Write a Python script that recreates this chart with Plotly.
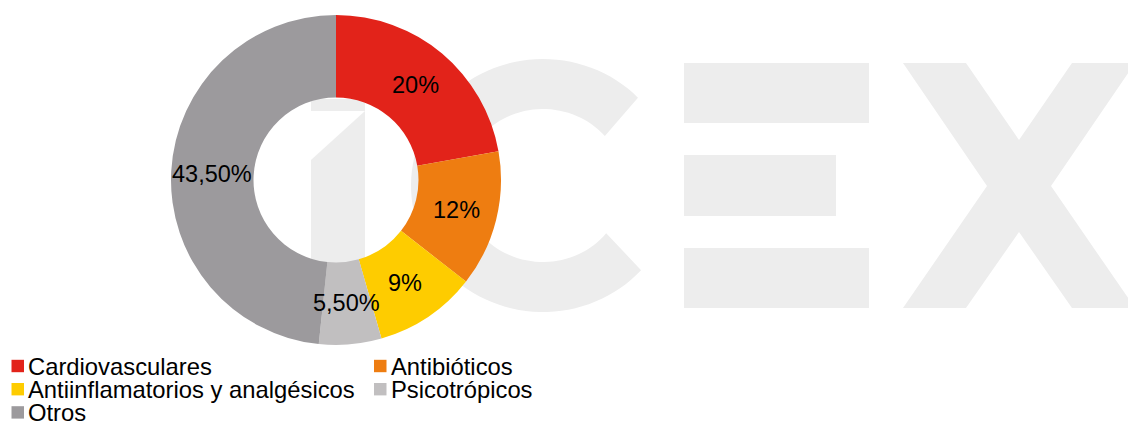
import numpy as np
import plotly.graph_objects as go

W, H = 1128, 421

# ---- data ----
labels = ["Cardiovasculares", "Antibióticos", "Antiinflamatorios y analgésicos",
          "Psicotrópicos", "Otros"]
values = [20, 12, 9, 5.5, 43.5]
value_text = ["20%", "12%", "9%", "5,50%", "43,50%"]
colors = ["#E2231A", "#EE7D11", "#FECC00", "#C1BFC0", "#9C9A9D"]

FONT = "Liberation Sans, Arial, Helvetica, sans-serif"
WM = "#EDEDED"

# pie geometry (pixels)
PCX, PCY, PR, HOLE = 336, 180, 165, 0.5


def px(x):
    return x / W


def py(y):
    return 1 - y / H


def poly(points):
    return "M " + " L ".join(f"{px(x):.5f},{py(y):.5f}" for x, y in points) + " Z"


shapes = []

# ---- watermark (decoration) ----
# "1"
shapes.append(dict(type="rect", xref="paper", yref="paper", layer="below",
                   x0=px(311), x1=px(365), y0=py(111), y1=py(99),
                   fillcolor=WM, line=dict(width=0)))
shapes.append(dict(type="path", xref="paper", yref="paper", layer="below",
                   path=poly([(311, 160), (365, 111), (365, 308), (311, 308)]),
                   fillcolor=WM, line=dict(width=0)))
# "C"
ccx, ccy = 543, 185.5
t_out = np.radians(np.linspace(-44, -318, 90))
t_in = np.radians(np.linspace(-321.3, -40.2, 90))
c_pts = [(ccx + 132 * np.cos(t), ccy + 126.5 * np.sin(t)) for t in t_out]
c_pts += [(ccx + 81 * np.cos(t), ccy + 76.5 * np.sin(t)) for t in t_in]
shapes.append(dict(type="path", xref="paper", yref="paper", layer="below",
                   path=poly(c_pts), fillcolor=WM, line=dict(width=0)))
# "E"
for (x0, y0, x1, y1) in [(684, 63, 869, 123), (684, 155, 836, 216), (684, 248, 869, 308)]:
    shapes.append(dict(type="rect", xref="paper", yref="paper", layer="below",
                       x0=px(x0), x1=px(x1), y0=py(y1), y1=py(y0),
                       fillcolor=WM, line=dict(width=0)))
# "X"
shapes.append(dict(type="path", xref="paper", yref="paper", layer="below",
                   path=poly([(903, 63), (966, 63), (1019, 140), (1072, 63), (1135, 63),
                              (1051, 186), (1135, 308), (1072, 308), (1019, 232),
                              (966, 308), (903, 308), (987, 186)]),
                   fillcolor=WM, line=dict(width=0)))

fig = go.Figure()
fig.add_trace(go.Pie(
    labels=labels, values=values, text=value_text,
    textinfo="none", textposition="none",
    hole=HOLE, sort=False, direction="clockwise", rotation=0,
    marker=dict(colors=colors, line=dict(width=0)),
    domain=dict(x=[px(PCX - PR), px(PCX + PR)], y=[py(PCY + PR), py(PCY - PR)]),
    showlegend=False, hoverinfo="label+text",
))

annotations = []

# ---- slice labels, placed at mid-angle, mid-ring of each slice ----
vals = np.array(values, dtype=float)
mid_frac = (np.cumsum(vals) - vals / 2) / vals.sum()
r_lab = PR * (1 + HOLE) / 2
for txt, f in zip(value_text, mid_frac):
    a = 2 * np.pi * f
    lx = PCX + r_lab * np.sin(a)
    ly = PCY - r_lab * np.cos(a)
    annotations.append(dict(text=txt, x=px(lx), y=py(ly), xref="paper", yref="paper",
                            xanchor="center", yanchor="middle", showarrow=False,
                            borderpad=0,
                            font=dict(family=FONT, size=23.5, color="black")))

# ---- legend (two columns, built from labels/colors) ----
col_marker_x = [11.5, 374]
col_text_x = [27, 390]
row_y0, row_step = 366, 23.2
for i, (lab, colr) in enumerate(zip(labels, colors)):
    col, row = i % 2, i // 2
    yc = row_y0 + row * row_step
    mx = col_marker_x[col]
    shapes.append(dict(type="rect", xref="paper", yref="paper", layer="above",
                       x0=px(mx), x1=px(mx + 12.5), y0=py(yc + 6.2), y1=py(yc - 6.2),
                       fillcolor=colr, line=dict(width=0)))
    annotations.append(dict(text=lab, x=px(col_text_x[col]), y=py(yc),
                            xref="paper", yref="paper", xanchor="left", yanchor="middle",
                            showarrow=False, borderpad=0,
                            font=dict(family=FONT, size=23.8, color="black")))

fig.update_layout(
    width=W, height=H,
    margin=dict(l=0, r=0, t=0, b=0),
    paper_bgcolor="white", plot_bgcolor="white",
    shapes=shapes, annotations=annotations,
    showlegend=False,
    font=dict(family=FONT),
)

fig.write_html("out.html",
               config={"displayModeBar": False},
               post_script="document.body.style.margin='0';document.body.style.overflow='hidden';")
